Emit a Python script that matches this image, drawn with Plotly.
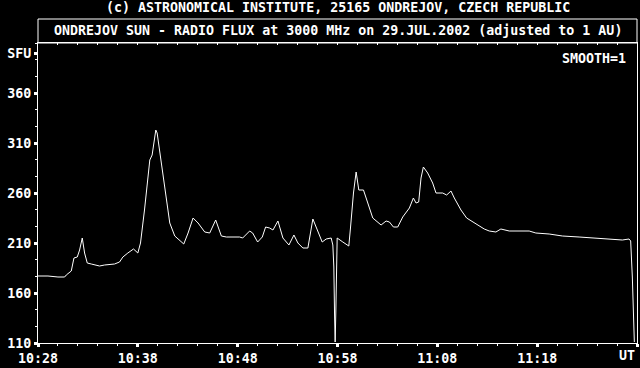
import plotly.graph_objects as go

DAY = "2002-07-29"

times = [
    "10:28:00", "10:29:00", "10:30:00", "10:30:40", "10:30:50", "10:31:20", "10:31:36", "10:31:56",
    "10:32:10", "10:32:26", "10:32:40", "10:32:56", "10:33:20", "10:34:10", "10:34:40", "10:35:40",
    "10:36:10", "10:36:30", "10:37:00", "10:37:34", "10:38:00", "10:38:16", "10:38:40", "10:39:12",
    "10:39:26", "10:39:48", "10:39:56", "10:40:12", "10:40:42", "10:41:12", "10:41:42", "10:42:12",
    "10:42:36", "10:43:02", "10:43:32", "10:44:02", "10:44:42", "10:45:12", "10:45:48", "10:46:22",
    "10:46:52", "10:48:12", "10:48:30", "10:49:12", "10:49:30", "10:50:00", "10:50:28", "10:50:48",
    "10:51:12", "10:51:32", "10:52:02", "10:52:32", "10:53:08", "10:53:38", "10:54:02", "10:54:32",
    "10:55:02", "10:55:32", "10:56:02", "10:56:28", "10:56:52", "10:57:22", "10:57:32", "10:57:38",
    "10:57:42", "10:57:46", "10:57:50", "10:57:54", "10:57:58", "10:58:32", "10:59:08", "10:59:18",
    "10:59:36", "10:59:52", "11:00:08", "11:00:36", "11:01:02", "11:01:32", "11:02:22", "11:02:52",
    "11:03:12", "11:03:36", "11:04:02", "11:04:32", "11:05:12", "11:05:36", "11:05:52", "11:06:08",
    "11:06:22", "11:06:36", "11:07:02", "11:07:32", "11:07:52", "11:08:32", "11:08:56", "11:09:22",
    "11:09:42", "11:10:22", "11:10:56", "11:11:32", "11:12:02", "11:12:42", "11:13:12", "11:13:52",
    "11:14:22", "11:15:12", "11:17:12", "11:17:52", "11:19:12", "11:20:32", "11:22:12", "11:23:52",
    "11:25:12", "11:26:32", "11:27:12", "11:27:22", "11:27:32", "11:27:40", "11:27:44",
]

flux = [
    177, 177, 176, 176, 178, 182, 195, 196,
    203, 215, 200, 190, 189, 187, 188, 189,
    191, 196, 200, 204, 200, 210, 243, 293,
    298, 323, 320, 300, 263, 230, 217, 213,
    209, 220, 235, 230, 221, 220, 233, 217,
    216, 216, 215, 222, 220, 211, 216, 226,
    225, 223, 232, 215, 208, 218, 210, 205,
    205, 234, 221, 211, 214, 215, 208, 186,
    141, 111, 141, 186, 215, 211, 207, 225,
    260, 281, 263, 263, 251, 235, 228, 232,
    231, 226, 226, 236, 245, 255, 250, 251,
    275, 286, 280, 270, 260, 260, 258, 262,
    255, 243, 235, 231, 228, 224, 222, 221,
    224, 222, 222, 220, 219, 217, 216, 215,
    214, 213, 214, 212, 176, 133, 111,
]

x_tick_times = ["10:28", "10:38", "10:48", "10:58", "11:08", "11:18", "11:28"]
x_tick_labels = ["10:28", "10:38", "10:48", "10:58", "11:08", "11:18", ""]
y_tick_vals = [110, 160, 210, 260, 310, 360, 400]
y_tick_labels = ["110", "160", "210", "260", "310", "360", "SFU"]

title_top = "(c) ASTRONOMICAL INSTITUTE, 25165 ONDREJOV, CZECH REPUBLIC"
title_box = "ONDREJOV SUN - RADIO FLUX at 3000 MHz on 29.JUL.2002 (adjusted to 1 AU)"
note = "SMOOTH=1"
unit_x = "UT"

FONT = dict(family="DejaVu Sans Mono", size=13.3, color="white", weight="bold")

x_full = [f"{DAY} {t}" for t in times]
x_range = [f"{DAY} 10:28:00", f"{DAY} 11:28:00"]

fig = go.Figure()
fig.add_trace(go.Scatter(x=x_full, y=flux, mode="lines",
                         line=dict(color="white", width=1), hoverinfo="skip",
                         showlegend=False))
fig.add_trace(go.Scatter(x=[x_range[0]], y=[110], xaxis="x2", mode="markers",
                         marker=dict(opacity=0), showlegend=False, hoverinfo="skip"))

fig.update_layout(
    width=640, height=368,
    margin=dict(l=38, r=3, t=43, b=25),
    paper_bgcolor="black", plot_bgcolor="black",
    font=FONT,
    xaxis=dict(
        type="date", range=x_range,
        tickvals=[f"{DAY} {t}:00" for t in x_tick_times], ticktext=x_tick_labels,
        ticks="outside", ticklen=3, tickwidth=3, tickcolor="white",
        minor=dict(dtick=120000, tick0=x_range[0], ticks="outside", ticklen=2,
                   tickwidth=1, tickcolor="white", showgrid=False),
        showline=True, linecolor="white", linewidth=1, mirror=True,
        showgrid=False, zeroline=False, tickfont=FONT,
    ),
    xaxis2=dict(
        type="date", range=x_range, overlaying="x", side="top", anchor="y",
        tickvals=[f"{DAY} 10:{m:02d}:00" if m < 60 else f"{DAY} 11:{m-60:02d}:00"
                  for m in range(30, 88, 2)],
        ticks="inside", ticklen=2, tickwidth=1, tickcolor="white",
        showticklabels=False, showgrid=False, showline=False, zeroline=False,
    ),
    yaxis=dict(
        range=[110, 410], tickvals=y_tick_vals, ticktext=y_tick_labels,
        ticks="outside", ticklen=3, tickwidth=3, tickcolor="white",
        minor=dict(dtick=50 / 3, tick0=110, ticks="outside", ticklen=2,
                   tickwidth=1, tickcolor="white", showgrid=False),
        showline=True, linecolor="white", linewidth=1, mirror=True,
        showgrid=False, zeroline=False, tickfont=FONT,
    ),
    shapes=[dict(type="rect", xref="paper", yref="paper", x0=0, x1=1, y0=1, y1=1.08,
                 line=dict(color="white", width=1))],
    annotations=[
        dict(text=title_top, xref="paper", yref="paper", x=0.5, y=1.117,
             xanchor="center", yanchor="middle", showarrow=False, font=FONT),
        dict(text=title_box, xref="paper", yref="paper", x=0.5, y=1.04,
             xanchor="center", yanchor="middle", showarrow=False, font=FONT),
        dict(text=note, xref="paper", yref="paper", x=0.985, y=0.95,
             xanchor="right", yanchor="middle", showarrow=False, font=FONT),
        dict(text=unit_x, xref="paper", yref="paper", x=1.0, y=-0.04,
             xanchor="right", yanchor="middle", showarrow=False, font=FONT),
    ],
)

fig.write_html("out.html")
